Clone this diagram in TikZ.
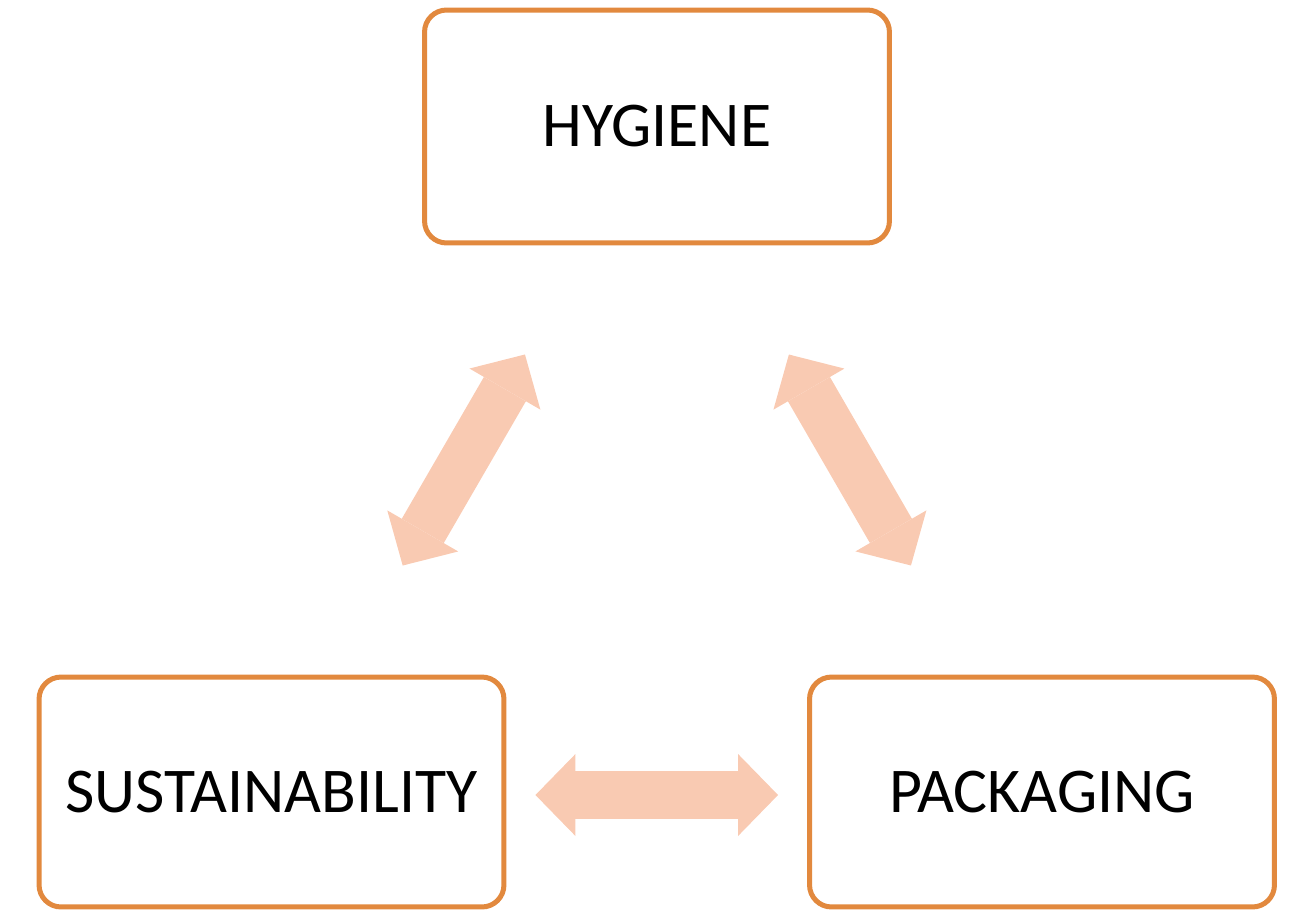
\documentclass[tikz,border=0pt]{standalone}
\usepackage{fontspec}
\setmainfont{Carlito}
\usepackage{xcolor}
\definecolor{Col1}{RGB}{226,137,62}
\definecolor{Col2}{RGB}{249,202,178}
\usetikzlibrary{arrows.meta}
\tikzstyle{Box}=[rectangle,rounded corners=0.44cm,draw=Col1,line width=0.1cm,
fill=white,minimum width=9.3cm,minimum height=4.6cm,
font=\fontsize{36.3}{42}\selectfont]
\tikzstyle{Link}=[draw=Col2,line width=0.97cm,
>={Triangle[length=0.8cm,width=1.64cm,line width=0pt]},<->]

\begin{document}
\begin{tikzpicture}[x=0.02cm,y=0.02cm]
        \useasboundingbox(0,0)rectangle(1292,-910);
        \node[Box,minimum height=4.66cm](hyg)at(657,-126.5){HYGIENE};
        \node[Box](sus)at(271.5,-792){SUSTAINABILITY};
        \node[Box](pac)at(1042,-792){PACKAGING};
        \draw[Link,shorten <=2.52cm,shorten >=2.52cm](hyg)--(sus);
        \draw[Link,shorten <=2.52cm,shorten >=2.52cm](hyg)--(pac);
        \draw[Link,shorten <=0.58cm,shorten >=0.58cm]
            ([yshift=-0.06cm]sus.east)--([yshift=-0.06cm]pac.west);
    \end{tikzpicture}
\end{document}
